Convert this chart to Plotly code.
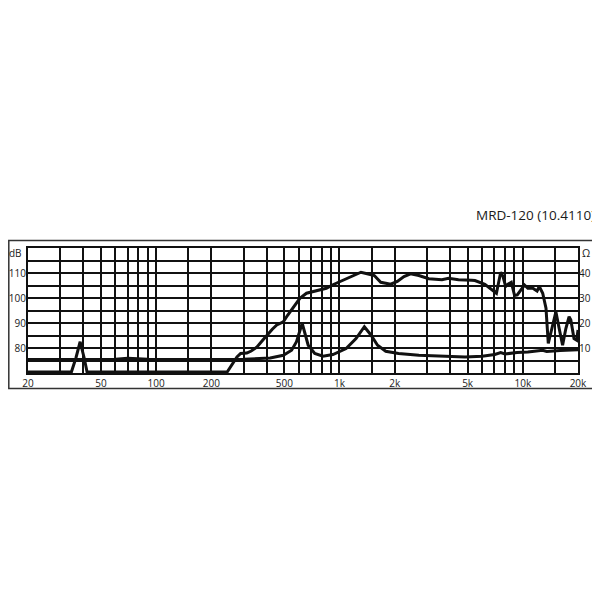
"""MRD-120 frequency response / impedance chart"""

import plotly.graph_objects as go

# frequency response (dB)
spl_freq = [20, 34.5, 36.5, 38.5, 40.5, 42, 244, 260, 276, 289, 312, 330, 355, 380, 402,
            430, 455, 494, 520, 548, 580, 608, 661, 748, 848, 921, 960, 1043, 1181, 1310,
            1454, 1548, 1680, 1902, 2068, 2248, 2442, 2710, 3070, 3622, 3936, 4458, 5260,
            5482, 6210, 7032, 7180, 7575, 7800, 8060, 8300, 8654, 9020, 9330, 9712, 10212,
            10656, 11340, 11960, 12300, 12840, 13380, 13770, 14240, 15150, 15790, 16480,
            17170, 17880, 18280, 19020, 19680, 20000]
spl_db = [70.4, 70.4, 76, 82.5, 76, 70.4, 70.4, 73.5, 76.4, 77.8, 78.0, 78.8, 80.4, 83, 85.2,
          87.5, 89.2, 90.5, 93, 95.2, 97.8, 99.9, 101.9, 102.8, 103.9, 105.3, 105.9, 107.0, 108.6, 110.3,
          109.5, 109.0, 106.3, 105.5, 106.6, 108.6, 109.7, 109.0, 107.7, 107.3, 107.9, 107.3, 107.1,
          107.0, 105.5, 102.6, 101.9, 110.3, 108.6, 104.6, 105.5, 106.3, 101.0, 101.2, 103.2, 105.2,
          103.9, 103.9, 102.8, 104.6, 101.9, 95.9, 81.8, 86.5, 94.5, 87.8, 81.1,
          87.8, 92.5, 91.2, 83.8, 83.1, 87.2]

# impedance (ohm)
imp_freq = [20, 60, 70, 90, 200, 300, 419, 494, 548, 583, 626, 675, 733, 813, 921, 1043,
            1087, 1231, 1367, 1484, 1613, 1788, 2100, 2710, 3476, 4841, 6000, 7032, 7575,
            8000, 9300, 10656, 12840, 13500, 16000, 20000]
imp_ohm = [5.4, 5.5, 5.9, 5.5, 5.4, 5.5, 6.0, 7.1, 9.1, 12.5, 19.9, 11.1, 7.8, 6.7, 7.4, 9.1,
           9.8, 13.8, 18.5, 15.2, 11.1, 8.7, 7.8, 7.1, 6.7, 6.4, 6.7, 7.4, 8.2,
           7.6, 8.2, 8.4, 9.1, 8.6, 9.0, 9.3]

# grid / tick labels
grid_freq = [20, 30, 40, 50, 60, 70, 80, 90, 100, 150, 200, 300, 400, 500, 600, 700, 800, 900,
             1000, 1500, 2000, 3000, 4000, 5000, 6000, 7000, 8000, 9000, 10000, 15000, 20000]
freq_labels = {20: "20", 50: "50", 100: "100", 200: "200", 500: "500", 1000: "1k",
               2000: "2k", 5000: "5k", 10000: "10k", 20000: "20k"}
db_ticks = [70, 75, 80, 85, 90, 95, 100, 105, 110, 115, 120]
db_labels = ["", "", "80", "", "90", "", "100", "", "110", "", ""]
ohm_ticks = [0, 5, 10, 15, 20, 25, 30, 35, 40, 45, 50]
ohm_labels = ["", "", "10", "", "20", "", "30", "", "40", "", ""]

FONT = "Open Sans, Noto Sans, sans-serif"
INK = "#111111"

# the page body has an 8px margin, so figure pixels = page pixels - 8
OFF = 8
SIZE = 600 - OFF
L, R, T, B = 28 - OFF, 578 - OFF, 248 - OFF, 373 - OFF
W, H = R - L, B - T


def px(x):
    # page x pixel -> paper coordinate
    return (x - OFF - L) / W


def py(y):
    # page y pixel -> paper coordinate
    return (B - (y - OFF)) / H


fig = go.Figure()
fig.add_trace(go.Scatter(x=imp_freq, y=imp_ohm, mode="lines", yaxis="y2",
                         line=dict(color=INK, width=3), hoverinfo="skip"))
fig.add_trace(go.Scatter(x=spl_freq, y=spl_db, mode="lines",
                         line=dict(color=INK, width=3), hoverinfo="skip"))

fig.update_layout(
    width=SIZE, height=SIZE,
    margin=dict(l=L, r=SIZE - R, t=T, b=SIZE - B, autoexpand=False),
    paper_bgcolor="white", plot_bgcolor="white",
    showlegend=False,
    font=dict(family=FONT, size=10, color="#1a1a1a"),
    xaxis=dict(type="log", range=[1.30103, 4.30103],
               tickvals=grid_freq,
               ticktext=[freq_labels.get(f, "") for f in grid_freq],
               showgrid=True, gridcolor=INK, gridwidth=1.5,
               showline=True, mirror=True, linecolor=INK, linewidth=2,
               ticks="", zeroline=False, fixedrange=True, automargin=False),
    yaxis=dict(range=[70, 120], tickvals=db_ticks, ticktext=db_labels,
               showgrid=True, gridcolor=INK, gridwidth=1.5,
               showline=True, mirror=True, linecolor=INK, linewidth=2,
               ticks="", ticklabelstandoff=-2,
               zeroline=False, fixedrange=True, automargin=False),
    yaxis2=dict(range=[0, 50], overlaying="y", side="right",
                tickvals=ohm_ticks, ticktext=ohm_labels,
                showgrid=False, showline=False, ticks="", zeroline=False,
                fixedrange=True, automargin=False),
)

# outer frame
fig.add_shape(type="rect", xref="paper", yref="paper",
              x0=px(8.8), x1=px(597.5), y0=py(388.5), y1=py(240.5),
              line=dict(color="#333333", width=1.5), layer="below")

fig.add_annotation(text="MRD-120 (10.4110)", xref="paper", yref="paper",
                   x=px(597), y=py(215), xanchor="right", yanchor="middle",
                   showarrow=False, font=dict(size=13.5, color="#1a1a1a"))
fig.add_annotation(text="dB", xref="paper", yref="paper",
                   x=px(16), y=py(253), xanchor="center", yanchor="middle",
                   showarrow=False, font=dict(size=10, color="#1a1a1a"))
fig.add_annotation(text="Ω", xref="paper", yref="paper",
                   x=px(586), y=py(252.5), xanchor="center", yanchor="middle",
                   showarrow=False, font=dict(size=10.5, color="#1a1a1a"))

fig.write_html("out.html")
